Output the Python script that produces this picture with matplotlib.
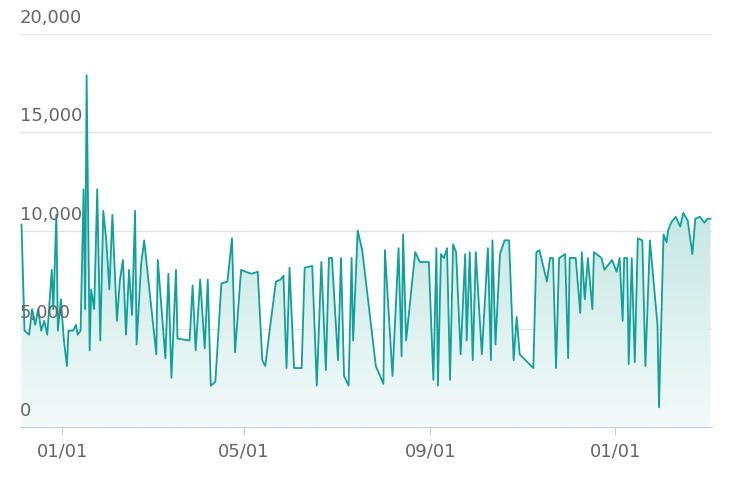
import numpy as np
import matplotlib
matplotlib.use("Agg")
import matplotlib.pyplot as plt
import matplotlib.dates as mdates
from matplotlib.patches import Polygon
import pandas as pd

# day offsets from 2022-01-01 and values
DAYS = [-27,-25,-22,-20,-18,-16,-14,-12,-10,-7,-6,-4,-3,-1,1,3,4,7,9,10,12,14,15,16,18,19,21,23,25,27,
        29,31,33,36,38,40,42,44,46,48,49,52,54,62,63,68,70,72,75,76,84,86,88,91,94,96,98,101,105,109,
        112,114,118,121,125,129,132,134,137,141,144,146,148,150,153,158,160,165,168,171,174,176,178,182,184,186,189,191,192,195,
        198,207,212,213,218,222,224,225,227,233,236,242,245,247,248,250,252,254,256,258,260,263,266,267,269,271,273,277,281,283,
        284,286,289,292,295,298,300,302,311,313,315,320,322,324,326,328,332,334,335,339,342,343,345,347,350,351,356,358,363,366,
        368,370,371,373,374,376,378,380,383,385,388,393,394,397,399,400,402,405,408,410,413,416,418,421,424,426,428]
VALUES = [10300,4900,4700,6000,5200,6000,4900,5400,4700,8000,6000,10800,4900,6500,4400,3100,4900,4900,5200,4700,4900,12100,6000,17900,3900,7000,6000,12100,4400,11000,
          9500,7000,10800,5400,7500,8500,4700,8000,5700,11000,4200,8300,9500,3700,8500,3500,7800,2500,8000,4500,4400,7200,3900,7500,4000,7500,2100,2300,7300,7400,
          9600,3800,8000,7900,7800,7900,3400,3100,5000,7400,7500,7700,3000,8100,3000,3000,8100,8200,2100,8400,2900,8600,8600,3400,8600,2600,2100,8600,4400,10000,
          9000,3100,2200,9000,2600,9100,3600,9800,4400,8900,8400,8400,2400,9100,2100,8800,8600,9100,2400,9300,8900,3700,8800,4400,8900,3400,8900,3700,9100,3400,
          9500,4200,8800,9500,9500,3400,5600,3700,3000,8900,9000,7400,8600,8600,3000,8600,8800,3500,8600,8600,5800,8900,6500,8600,6000,8900,8600,8000,8500,7900,
          8600,5400,8600,8600,3200,8600,3300,9600,9500,3100,9500,5200,1000,9800,9400,10000,10400,10700,10200,10900,10500,8800,10600,10700,10400,10600,10600]
YTICKS = [0, 5000, 10000, 15000, 20000]
XTICKS = ["2022-01-01", "2022-05-01", "2022-09-01", "2023-01-01"]

LINE = "#11a09a"
dates = pd.Timestamp("2022-01-01") + pd.to_timedelta(DAYS, unit="D")
x = mdates.date2num(dates)
y = np.array(VALUES)

fig = plt.figure(figsize=(7.32, 4.92), dpi=100)
ax = fig.add_axes([20/732, 65/492, 692/732, 393/492])
xmin = mdates.date2num(pd.Timestamp("2021-12-04"))
xmax = mdates.date2num(pd.Timestamp("2023-03-06"))
ax.set_xlim(xmin, xmax)
ax.set_ylim(0, 20000)

# gradient fill under the line
grad = np.linspace(0, 1, 256).reshape(-1, 1)
cmap = matplotlib.colors.LinearSegmentedColormap.from_list("g", ["#f4fbfa", "#9fd6d1"])
im = ax.imshow(grad, extent=[xmin, xmax, 0, 20000], origin="lower", aspect="auto", cmap=cmap, zorder=1)
poly = Polygon(np.column_stack([np.r_[x[0], x, x[-1]], np.r_[0, y, 0]]), closed=True, transform=ax.transData, facecolor="none", edgecolor="none")
ax.add_patch(poly)
im.set_clip_path(poly)
ax.plot(x, y, color=LINE, lw=1.3, zorder=3)

for t in YTICKS:
    ax.axhline(t, color="#e3e3e3", lw=1, zorder=0)
    ax.text(xmin, t + 350, f"{t:,}", fontsize=13, color="#666666", ha="left", va="bottom", zorder=4)
ax.set_yticks([])
for s in ["top", "right", "left"]:
    ax.spines[s].set_visible(False)
ax.spines["bottom"].set_color("#c8cce0")
ax.set_xticks(mdates.date2num(pd.to_datetime(XTICKS)))
ax.set_xticklabels(["01/01", "05/01", "09/01", "01/01"])
ax.tick_params(axis="x", colors="#c8cce0", labelcolor="#666666", labelsize=13, length=6, pad=5)
fig.savefig("out.png", dpi=100)
